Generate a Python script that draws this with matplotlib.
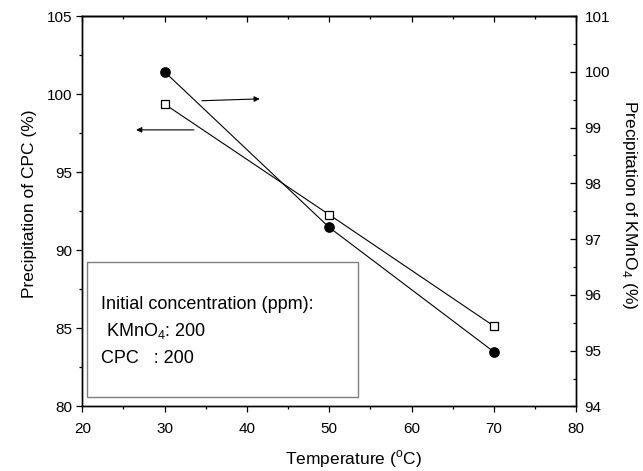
#!/usr/bin/env python3
import matplotlib
matplotlib.use('Agg')
import matplotlib.pyplot as plt
from matplotlib.ticker import MultipleLocator
from matplotlib.patches import Rectangle

plt.rcParams['font.family'] = 'Liberation Sans'
plt.rcParams['mathtext.fontset'] = 'custom'
plt.rcParams['mathtext.rm'] = 'Liberation Sans'

# data
temperature = [30, 50, 70]
cpc_precip = [99.36, 92.28, 85.15]     # left axis (%)
kmno4_precip = [100.0, 97.21, 94.98]   # right axis (%)

box_lines = ['Initial concentration (ppm):', ' KMnO$_\\mathregular{4}$: 200', 'CPC   : 200']

fig = plt.figure(figsize=(6.43, 4.71), dpi=100)
ax = fig.add_axes([0.128, 0.137, 0.768, 0.829])
ax2 = ax.twinx()

# CPC on the left axis, open squares
ax.plot(temperature, cpc_precip, color='black', lw=0.8, marker='s', ms=5.5,
        mfc='white', mec='black', mew=0.9, zorder=3)
# KMnO4 on the right axis, filled circles
ax2.plot(temperature, kmno4_precip, color='black', lw=0.8, marker='o', ms=6.7,
         mfc='black', mec='black', zorder=3)

ax.set_xlim(20, 80)
ax.set_ylim(80, 105)
ax2.set_ylim(94, 101)

ax.xaxis.set_major_locator(MultipleLocator(10))
ax.xaxis.set_minor_locator(MultipleLocator(5))
ax.yaxis.set_major_locator(MultipleLocator(5))
ax.yaxis.set_minor_locator(MultipleLocator(2.5))
ax2.yaxis.set_major_locator(MultipleLocator(1))
ax2.yaxis.set_minor_locator(MultipleLocator(0.5))

ax.tick_params(which='both', direction='out', top=False, right=False, labelsize=11)
ax.tick_params(which='major', length=4, width=0.9)
ax.tick_params(which='minor', length=2.5, width=0.9)
ax.tick_params(axis='x', which='major', pad=7)
ax2.tick_params(which='both', direction='in', left=False, labelsize=11, pad=6)
ax2.tick_params(which='major', length=4, width=0.9)
ax2.tick_params(which='minor', length=2.5, width=0.9)

# top axis: ticks only, pointing inwards
top = ax.secondary_xaxis('top')
top.xaxis.set_major_locator(MultipleLocator(10))
top.xaxis.set_minor_locator(MultipleLocator(5))
top.tick_params(which='both', direction='in', labeltop=False, width=0.9)
top.tick_params(which='major', length=4.5)
top.tick_params(which='minor', length=2.5)

for a in (ax, ax2):
    for s in a.spines.values():
        s.set_linewidth(1.0)
for s in top.spines.values():
    s.set_linewidth(1.0)

ax.set_xlabel('Temperature ($^\\mathregular{o}$C)', fontsize=12.5)
ax.xaxis.set_label_coords(0.549, -0.108)
ax.xaxis.label.set_va('top')

ax.set_ylabel('Precipitation of CPC (%)', fontsize=12.5)
ax.yaxis.label.set_va('center')
ax.yaxis.set_label_coords(-0.107, 0.518)

ax2.set_ylabel('Precipitation of KMnO$_\\mathregular{4}$ (%)', fontsize=12.5, rotation=270)
ax2.yaxis.label.set_va('center')
ax2.yaxis.set_label_coords(1.109, 0.516)

# arrows showing which curve belongs to which axis
ax.annotate('', xy=(41.9, 99.70), xytext=(34.2, 99.57),
            arrowprops=dict(arrowstyle='-|>', color='black', lw=0.8, mutation_scale=8))
ax.annotate('', xy=(26.2, 97.71), xytext=(33.9, 97.71),
            arrowprops=dict(arrowstyle='-|>', color='black', lw=0.8, mutation_scale=8))

# annotation box
ax.add_patch(Rectangle((20.53, 80.62), 33.0, 8.65, fill=False,
                       edgecolor='#7f7f7f', lw=1.0, zorder=2))
ax.text(22.27, 86.22, box_lines[0], fontsize=13, va='baseline', ha='left')
ax.text(22.27, 84.51, box_lines[1], fontsize=13, va='baseline', ha='left')
ax.text(22.27, 82.76, box_lines[2], fontsize=13, va='baseline', ha='left')

fig.savefig('out.png', dpi=100)
